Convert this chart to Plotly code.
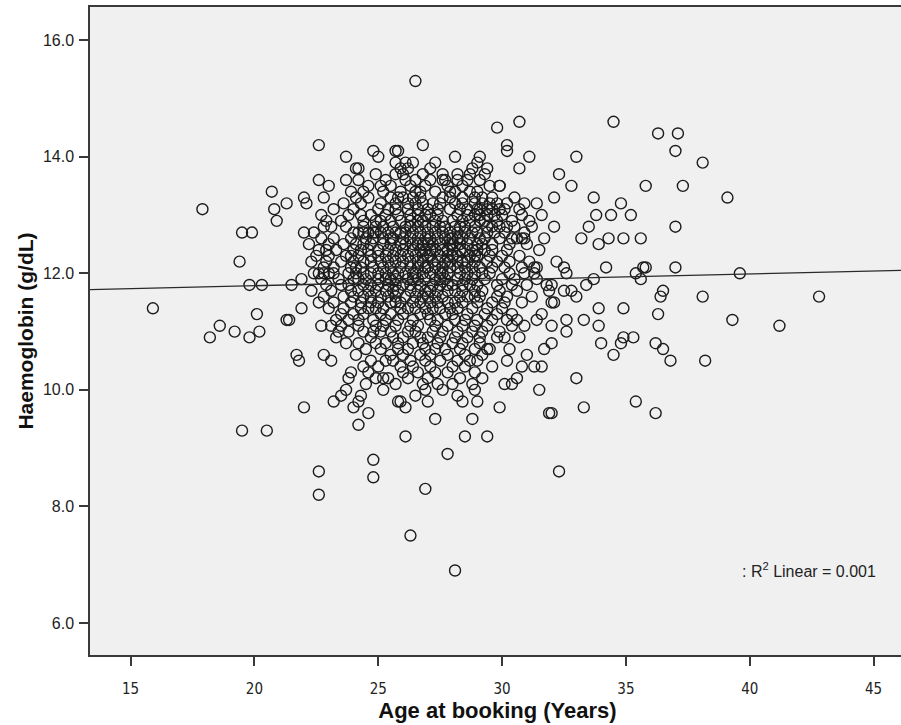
import plotly.graph_objects as go

# Haemoglobin levels (g/dL) and the ages (years) observed at each level
hb_levels = [15.3, 14.6, 14.5, 14.4, 14.2, 14.1, 14.0, 13.9, 13.8, 13.7, 13.6, 13.5, 13.4, 13.3, 13.2,
             13.1, 13.0, 12.9, 12.8, 12.7, 12.6, 12.5, 12.4, 12.3, 12.2, 12.1, 12.0, 11.9, 11.8, 11.7,
             11.6, 11.5, 11.4, 11.3, 11.2, 11.1, 11.0, 10.9, 10.8, 10.7, 10.6, 10.5, 10.4, 10.3, 10.2,
             10.1, 10.0, 9.9, 9.8, 9.7, 9.6, 9.5, 9.4, 9.3, 9.2, 8.9, 8.8, 8.6, 8.5, 8.3, 8.2, 7.5, 6.9]

ages_by_level = [
    [26.5],
    [30.7, 34.5],
    [29.8],
    [36.3, 37.1],
    [22.6, 26.8, 30.2],
    [24.8, 25.7, 25.8, 30.2, 37.0],
    [23.7, 25.0, 28.1, 29.1, 31.1, 33.0],
    [25.7, 26.1, 29.0, 38.1, 26.4, 27.3],
    [24.1, 24.2, 28.8, 30.7, 25.9, 26.2, 27.1, 29.4],
    [25.7, 28.2, 28.7, 29.3, 32.3, 24.9, 26.0, 26.8, 27.6],
    [22.6, 23.7, 26.1, 27.1, 27.6, 27.7, 28.2, 28.6, 25.3, 26.5, 29.1, 24.2],
    [23.0, 24.6, 25.1, 29.9, 29.9, 32.8, 35.8, 37.3, 25.5, 26.3, 26.9, 28.4, 29.5, 27.8],
    [20.7, 23.9, 26.5, 27.9, 28.1, 25.2, 25.9, 26.7, 28.7, 29.0, 24.4, 27.3],
    [22.0, 22.8, 26.4, 29.6, 32.1, 33.7, 39.1, 27.6, 27.9, 24.1, 24.6, 25.5, 26.0, 28.4, 29.2, 30.5,
     25.8, 26.7, 28.9],
    [21.3, 22.1, 26.5, 26.8, 29.2, 30.9, 31.4, 34.8, 23.6, 24.3, 25.1, 25.7, 27.2, 28.1, 28.9, 29.8,
     30.2, 27.5, 26.2, 28.4, 29.5],
    [17.9, 20.8, 29.1, 29.4, 29.6, 29.9, 30.1, 23.2, 24.0, 25.4, 26.2, 26.6, 27.0, 27.9, 28.3, 28.6,
     30.7, 25.0, 25.7, 27.4, 29.0],
    [22.7, 28.9, 31.6, 33.8, 34.4, 35.2, 23.8, 24.7, 25.3, 25.8, 26.3, 27.1, 27.4, 28.2, 29.4, 29.7,
     30.0, 30.8, 26.9, 24.3, 26.6, 28.6, 29.1],
    [20.9, 30.4, 22.9, 23.5, 24.4, 25.5, 25.9, 26.6, 26.8, 27.3, 28.0, 28.4, 29.1, 29.3, 29.8, 31.1,
     24.9, 25.1, 26.3, 27.6, 28.7],
    [22.8, 23.1, 30.5, 30.2, 32.1, 33.5, 37.0, 23.7, 24.4, 25.2, 25.6, 26.1, 26.3, 26.9, 27.5, 27.7,
     28.1, 28.5, 28.9, 29.4, 29.9, 31.2, 24.9, 26.6, 27.2, 28.3, 29.6],
    [19.5, 19.9, 22.0, 22.4, 24.0, 24.2, 24.4, 24.6, 24.8, 24.9, 25.4, 25.7, 26.4, 26.7, 27.0, 27.3,
     27.9, 28.2, 28.8, 29.0, 29.7, 30.1, 30.9, 26.1, 25.1, 25.9, 27.6, 28.5, 29.4],
    [30.8, 30.9, 30.4, 30.6, 31.7, 33.2, 34.9, 35.6, 34.3, 22.7, 23.2, 23.9, 24.5, 24.8, 25.5, 25.6,
     26.0, 26.6, 27.1, 27.4, 28.0, 28.4, 28.7, 29.1, 29.3, 29.9, 27.7, 25.2, 26.3, 26.9, 27.9, 28.2],
    [33.9, 22.2, 23.0, 23.6, 24.1, 24.7, 25.2, 25.9, 26.1, 26.8, 27.2, 27.5, 28.3, 28.6, 29.2, 29.6,
     30.3, 31.0, 26.4, 27.9, 24.4, 25.5, 26.6, 27.0, 28.0, 29.0],
    [22.6, 22.9, 23.3, 24.0, 24.6, 25.0, 25.7, 26.0, 26.4, 26.9, 27.3, 27.6, 28.0, 28.5, 28.8, 29.3,
     29.6, 30.2, 31.5, 27.1, 24.3, 25.4, 26.7, 27.8, 28.3, 29.0],
    [23.0, 22.5, 23.7, 24.2, 24.7, 25.3, 25.6, 26.2, 26.8, 27.1, 27.5, 27.8, 28.2, 28.7, 29.0, 29.5,
     30.0, 30.7, 26.5, 23.9, 25.0, 25.9, 27.0, 28.0, 28.9],
    [19.4, 32.2, 22.3, 22.9, 23.5, 24.0, 24.4, 25.1, 25.4, 26.0, 26.3, 26.8, 27.2, 27.7, 28.2, 28.4,
     28.9, 29.4, 29.8, 30.3, 31.1, 27.4, 24.7, 25.7, 26.6, 27.9, 28.6],
    [31.3, 31.4, 32.5, 34.2, 35.8, 37.0, 35.7, 22.8, 23.2, 23.9, 24.3, 24.8, 25.5, 25.9, 26.6, 27.0,
     27.6, 27.9, 28.5, 29.1, 29.6, 30.1, 30.8, 26.3, 24.1, 25.2, 26.9, 27.3, 28.2, 28.8],
    [22.6, 31.3, 32.6, 35.4, 39.6, 22.4, 22.8, 23.0, 23.2, 23.8, 24.1, 24.7, 25.0, 25.6, 26.1, 26.5,
     26.8, 27.1, 27.5, 27.8, 28.3, 28.6, 29.2, 29.5, 30.3, 30.9, 24.4, 25.3, 25.8, 26.4, 27.6, 28.9],
    [21.9, 35.6, 33.7, 22.7, 23.4, 24.0, 24.5, 25.3, 25.7, 26.2, 26.9, 27.3, 27.7, 28.2, 28.8, 29.3,
     30.0, 30.5, 31.4, 26.6, 24.2, 25.0, 25.5, 26.4, 27.5, 28.5],
    [19.8, 20.3, 32.0, 31.8, 33.4, 21.5, 22.9, 23.5, 23.8, 24.4, 25.0, 25.4, 26.0, 26.7, 27.2, 27.5,
     28.0, 28.7, 29.0, 29.8, 30.4, 31.0, 24.7, 25.7, 26.3, 27.8, 28.4],
    [22.3, 31.9, 32.5, 32.8, 36.5, 23.1, 23.9, 24.2, 24.9, 25.3, 25.8, 26.3, 26.9, 27.4, 27.8, 28.4,
     28.9, 29.2, 29.9, 30.6, 24.6, 25.6, 26.6, 27.1, 28.1],
    [22.8, 33.0, 36.4, 38.1, 42.8, 23.6, 24.0, 24.7, 25.1, 25.7, 26.1, 26.8, 27.0, 27.6, 28.3, 28.6,
     29.1, 29.8, 30.2, 31.2, 24.4, 25.4, 26.5, 27.3, 28.9],
    [32.0, 32.1, 22.6, 23.2, 23.9, 24.3, 25.0, 25.5, 25.9, 26.4, 27.1, 27.4, 28.1, 28.4, 29.0, 29.6,
     30.1, 30.8, 24.7, 25.7, 26.7, 27.8],
    [15.9, 21.9, 33.9, 34.9, 23.0, 23.6, 24.3, 24.6, 25.2, 25.9, 26.2, 26.9, 27.2, 27.9, 28.2, 28.8,
     29.4, 30.0, 24.9, 26.5, 27.5],
    [20.1, 30.4, 31.6, 36.3, 23.5, 24.0, 24.4, 25.1, 25.5, 26.0, 26.7, 27.0, 27.7, 28.0, 28.6, 29.3, 29.8],
    [21.3, 21.4, 30.6, 31.4, 32.6, 33.3, 39.3, 23.3, 23.8, 24.2, 24.8, 25.3, 25.8, 26.4, 27.1, 27.4,
     28.1, 28.5, 29.0, 29.6, 30.2],
    [18.6, 22.7, 23.1, 24.9, 30.4, 30.9, 32.0, 33.9, 41.2, 23.5, 24.2, 25.2, 25.7, 26.3, 26.6, 27.3,
     27.8, 28.4, 28.9, 29.4],
    [19.2, 20.2, 24.4, 24.8, 32.6, 23.4, 23.8, 25.1, 25.5, 26.2, 26.5, 27.2, 27.6, 28.2, 28.8, 29.2, 29.9],
    [18.2, 19.8, 24.7, 30.1, 30.7, 34.9, 35.3, 23.3, 25.6, 26.0, 26.7, 27.0, 27.5, 28.1, 28.6, 29.1, 29.8],
    [25.3, 32.0, 34.0, 34.8, 36.2, 23.7, 24.2, 24.9, 25.8, 26.4, 26.8, 27.4, 28.0, 28.4, 29.1],
    [25.1, 30.3, 31.7, 29.4, 29.5, 36.5, 24.5, 25.8, 26.2, 26.9, 27.3, 27.7, 28.3, 28.9],
    [21.7, 22.8, 25.5, 31.0, 34.5, 24.1, 26.0, 26.7, 27.1, 27.8, 28.5, 29.2],
    [21.8, 23.1, 25.3, 25.6, 30.2, 29.0, 28.2, 36.8, 38.2, 24.7, 26.3, 26.9, 27.5, 28.7],
    [24.4, 30.8, 31.3, 31.6, 29.6, 26.4, 25.0, 25.9, 27.1, 28.0, 28.5],
    [23.9, 27.8, 26.0, 24.6, 26.6, 27.3, 28.9],
    [23.8, 25.2, 25.4, 29.2, 30.6, 33.0, 24.9, 26.2, 27.0, 28.3],
    [25.7, 28.8, 30.1, 30.4, 27.4, 24.5, 26.8, 28.0],
    [23.7, 28.9, 31.5, 25.2, 26.9, 27.6],
    [23.5, 24.3, 28.2, 26.5],
    [23.2, 24.2, 25.8, 25.9, 29.0, 28.4, 27.0, 35.4],
    [22.0, 24.0, 26.1, 29.9, 33.3],
    [24.6, 31.9, 36.2, 32.0],
    [27.3, 28.8],
    [24.2],
    [19.5, 20.5],
    [26.1, 28.5, 29.4],
    [27.8],
    [24.8],
    [22.6, 32.3],
    [24.8],
    [26.9],
    [22.6],
    [26.3],
    [28.1],
]

# Linear fit shown on the chart (R^2 = 0.001)
fit_intercept = 11.585
fit_slope = 0.0101
r2_text = ": R<sup>2</sup> Linear = 0.001"

x_range = [13.36, 46.27]
y_range = [5.45, 16.57]
x_ticks = [15, 20, 25, 30, 35, 40, 45]
y_ticks = [6.0, 8.0, 10.0, 12.0, 14.0, 16.0]

ages, hbs = [], []
for level, ages_here in zip(hb_levels, ages_by_level):
    for a in ages_here:
        ages.append(a)
        hbs.append(level)

fig = go.Figure()
fig.add_trace(go.Scatter(
    x=ages, y=hbs, mode="markers",
    marker=dict(symbol="circle-open", size=11, color="#1c1c1c", line=dict(width=1.4)),
    hoverinfo="x+y", showlegend=False,
))
fit_x = [x_range[0], x_range[1]]
fit_y = [fit_intercept + fit_slope * v for v in fit_x]
fig.add_trace(go.Scatter(
    x=fit_x, y=fit_y, mode="lines",
    line=dict(color="#2a2a2a", width=1.3), showlegend=False, hoverinfo="skip",
))

fig.add_annotation(
    x=39.62, y=6.91, xref="x", yref="y", text=r2_text, showarrow=False,
    xanchor="left", yanchor="middle",
    font=dict(family="Liberation Sans, Arial, sans-serif", size=16, color="#222222"),
)

fig.update_layout(
    width=905, height=725,
    margin=dict(l=90, r=0, t=7, b=70, autoexpand=False),
    paper_bgcolor="white", plot_bgcolor="#f0f0f0",
    font=dict(family="Liberation Sans, Arial, sans-serif", color="#222222"),
)
fig.update_xaxes(
    range=x_range, tickvals=x_ticks, ticktext=[str(t) for t in x_ticks],
    automargin=False,
    showgrid=False, zeroline=False,
    showline=True, linecolor="#3a3a3a", linewidth=1.5, mirror=True,
    ticks="outside", ticklen=9, tickwidth=1.5, tickcolor="#3a3a3a",
    ticklabelstandoff=10,
    tickfont=dict(family="Liberation Sans Narrow, DejaVu Sans Condensed, Liberation Sans, sans-serif",
                  size=15, color="#222222"),
    title=dict(text="<b>Age at booking (Years)</b>", standoff=4,
               font=dict(family="Liberation Sans, Arial, sans-serif", size=22, color="#111111")),
)
fig.update_yaxes(
    range=y_range, tickvals=y_ticks, ticktext=[f"{t:.1f}" for t in y_ticks],
    automargin=False,
    showgrid=False, zeroline=False,
    showline=True, linecolor="#3a3a3a", linewidth=1.5, mirror=False,
    ticks="outside", ticklen=9, tickwidth=1.5, tickcolor="#3a3a3a",
    ticklabelstandoff=2,
    tickfont=dict(family="Liberation Sans, Arial, sans-serif", size=16, color="#222222"),
    title=dict(text="<b>Haemoglobin (g/dL)</b>", standoff=4,
               font=dict(family="Liberation Sans, Arial, sans-serif", size=21, color="#111111")),
)

fig.write_html(
    "out.html",
    config={"displayModeBar": False},
    post_script="document.body.style.margin='0';document.body.style.overflow='hidden';",
)
